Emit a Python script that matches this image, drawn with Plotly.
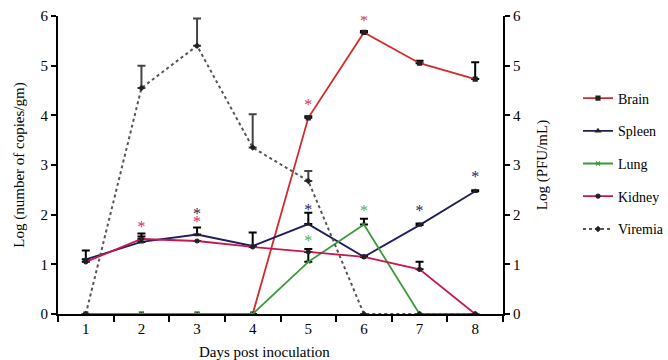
import plotly.graph_objects as go

days = [1, 2, 3, 4, 5, 6, 7, 8]
day_labels = ["1", "2", "3", "4", "5", "6", "7", "8"]

brain = [0, 0, 0, 0, 3.95, 5.67, 5.05, 4.73]
brain_err = [None, None, None, None, 0.03, 0.03, 0.05, 0.34]

spleen = [1.1, 1.45, 1.6, 1.37, 1.81, 1.15, 1.79, 2.47]
spleen_err = [0.18, 0.17, 0.14, 0.27, 0.23, 0.03, 0.03, 0.02]

lung = [0, 0, 0, 0, 1.05, 1.8, 0, 0]
lung_err = [None, None, None, None, 0.2, 0.12, None, None]

kidney = [1.05, 1.51, 1.47, 1.35, 1.25, 1.15, 0.9, 0]
kidney_err = [None, 0.05, None, None, 0.06, None, 0.15, None]

viremia = [0, 4.55, 5.4, 3.35, 2.68, 0, 0, 0]
viremia_err = [None, 0.45, 0.55, 0.67, 0.2, None, None, None]

# significance asterisks: (day, y, series colour key)
star_days = [2, 3, 3, 5, 5, 5, 6, 6, 7, 8]
star_vals = [1.73, 2.0, 1.83, 4.19, 2.07, 1.45, 5.88, 2.05, 2.05, 2.73]
star_series = ["Kidney", "Spleen", "Kidney", "Brain", "Spleen", "Lung", "Brain", "Lung", "Spleen", "Spleen"]

colors = {
    "Brain": "#D22B2B",
    "Spleen": "#1E1E5A",
    "Lung": "#3C9A3C",
    "Kidney": "#C81650",
    "Viremia": "#555555",
}
star_colors = {
    "Brain": "#D23A3A",
    "Spleen": "#23235F",
    "Lung": "#4CAF4C",
    "Kidney": "#D8286E",
}

FONT = "Liberation Serif"

fig = go.Figure()

def err(arr):
    return dict(type="data", symmetric=False, array=arr,
                arrayminus=[None] * len(arr), color="black",
                thickness=2, width=4)

series = [
    ("Brain", brain, brain_err, "square", "y"),
    ("Spleen", spleen, spleen_err, "triangle-up", "y"),
    ("Lung", lung, lung_err, "x-thin-open", "y"),
    ("Kidney", kidney, kidney_err, "circle", "y"),
]
for name, vals, e, sym, ax in series:
    fig.add_trace(go.Scatter(
        x=days, y=vals, name=name, mode="lines+markers",
        line=dict(color=colors[name], width=1.8),
        marker=dict(symbol=sym, size=4, color="#222222" if name != "Lung" else colors[name],
                    line=dict(width=1.2, color="#222222" if name != "Lung" else "#2a6a2a")),
        error_y=err(e), legendgroup=name, yaxis=ax,
    ))

fig.add_trace(go.Scatter(
    x=days, y=viremia, name="Viremia", mode="lines+markers",
    line=dict(color=colors["Viremia"], width=2, dash="dot"),
    marker=dict(symbol="diamond", size=5, color="#222222"),
    error_y=dict(type="data", symmetric=False, array=viremia_err,
                 arrayminus=[None] * len(viremia_err), color="#444444",
                 thickness=2, width=4),
    legendgroup="Viremia", yaxis="y2",
))

fig.add_trace(go.Scatter(
    x=star_days, y=star_vals, mode="text", text=["*"] * len(star_days),
    textfont=dict(family=FONT, size=16, color=[star_colors[s] for s in star_series]),
    textposition="middle center", showlegend=False, hoverinfo="skip",
))

fig.update_layout(
    width=668, height=360,
    margin=dict(l=58, r=165, t=16, b=46, autoexpand=False),
    paper_bgcolor="white", plot_bgcolor="white",
    font=dict(family=FONT, size=15, color="black"),
    showlegend=True,
    legend=dict(x=(578 - 58) / 445, xanchor="left", y=0.505, yanchor="middle",
                font=dict(family=FONT, size=14), tracegroupgap=11.5,
                bgcolor="rgba(0,0,0,0)", itemwidth=30),
    xaxis=dict(range=[0.5, 8.5], tickmode="array", tickvals=days, ticktext=day_labels,
               ticks="", showgrid=False, zeroline=False, showline=True, automargin=False,
               linecolor="black", linewidth=2, mirror=False,
               minor=dict(tick0=0.5, dtick=1, ticks="outside", ticklen=6,
                          tickwidth=2, tickcolor="black", showgrid=False),
               tickfont=dict(size=15)),
    yaxis=dict(range=[0, 6], tickvals=[0, 1, 2, 3, 4, 5, 6], ticks="outside", ticklen=5,
               tickwidth=2, tickcolor="black", showgrid=False, zeroline=False,
               showline=True, linecolor="black", linewidth=2, automargin=False,
               title=dict(text="Log (number of copies/gm)", font=dict(size=15), standoff=12),
               tickfont=dict(size=15)),
    yaxis2=dict(range=[0, 6], tickvals=[0, 1, 2, 3, 4, 5, 6], ticks="outside", ticklen=5,
                tickwidth=2, tickcolor="black", overlaying="y", side="right",
                showgrid=False, zeroline=False, showline=True, linecolor="black",
                linewidth=2, automargin=False,
                title=dict(text="Log (PFU/mL)", font=dict(size=15), standoff=16),
                tickfont=dict(size=15)),
    annotations=[dict(text="Days post inoculation", xref="paper", yref="paper",
                      x=(264 - 58) / 445, y=-0.093, xanchor="center", yanchor="top",
                      showarrow=False, font=dict(family=FONT, size=15))],
)

fig.write_html("out.html", config={"displayModeBar": False},
               post_script="document.body.style.margin='0';document.body.style.overflow='hidden';")
